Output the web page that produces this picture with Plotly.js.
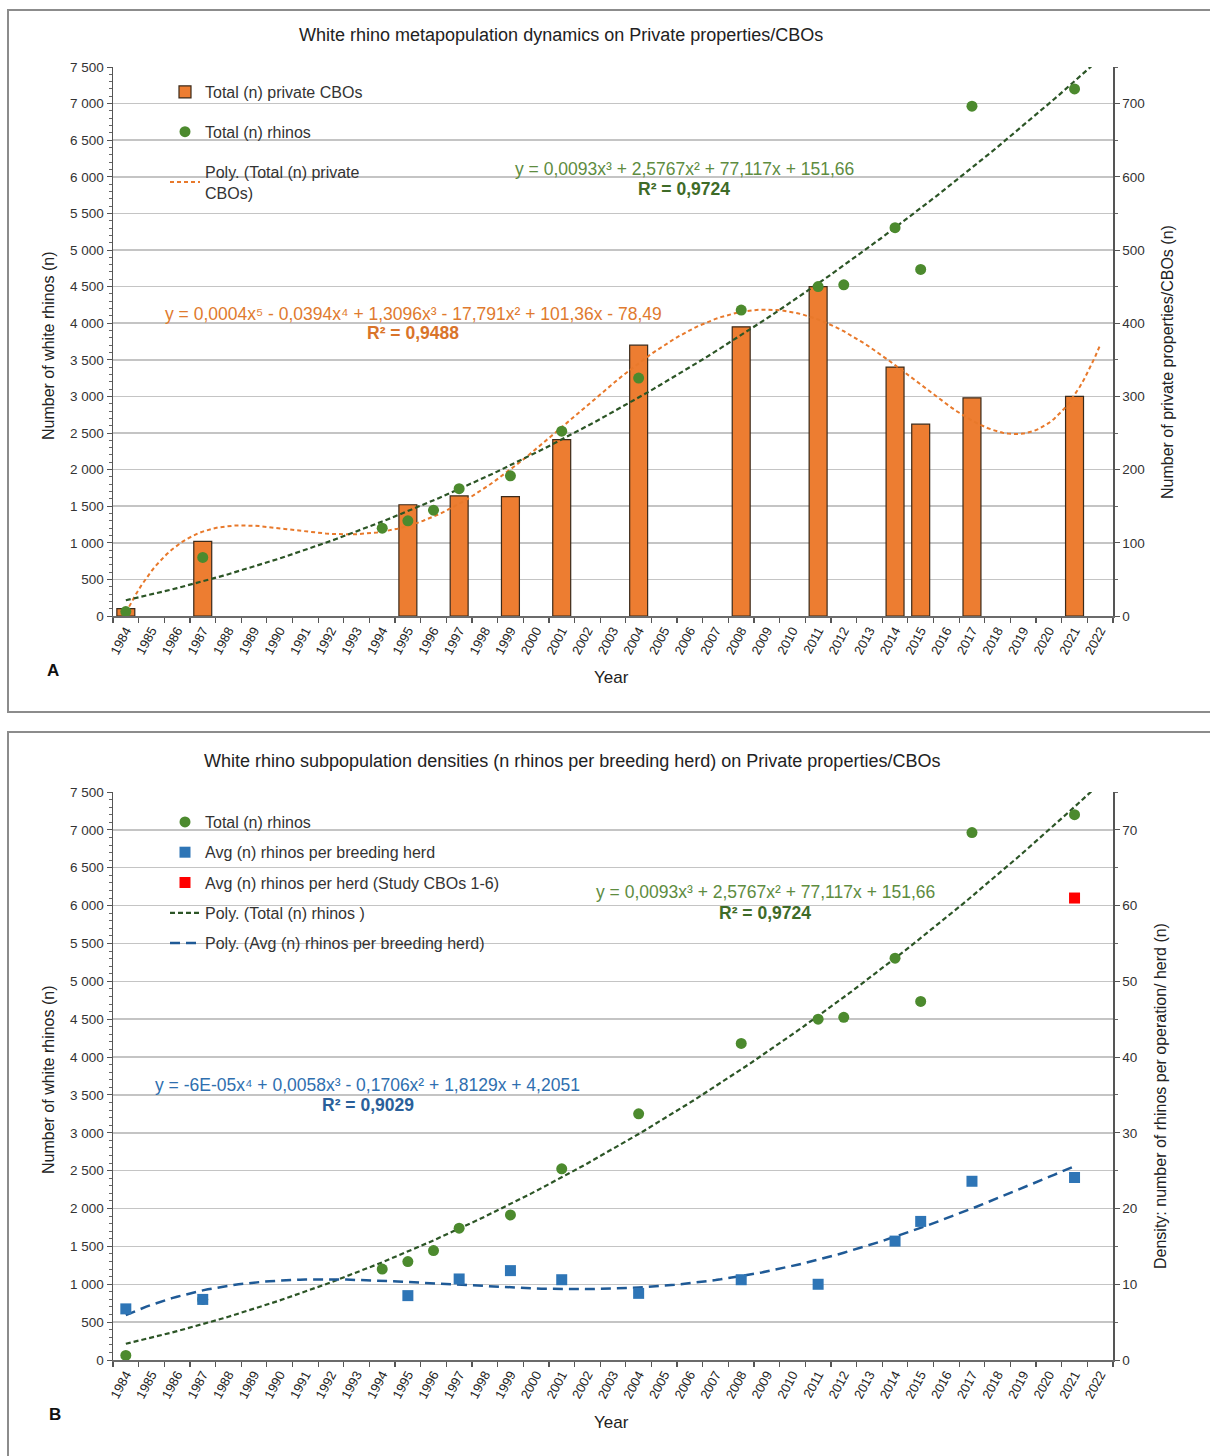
<!DOCTYPE html>
<html>
<head>
<meta charset="utf-8">
<script src="https://cdn.plot.ly/plotly-3.0.1.min.js"></script>
<style>html,body{margin:0;padding:0;background:#fff;}#chart{width:1210px;height:1456px;}</style>
</head>
<body>
<div id="chart"></div>
<script>
// ---- data ----
const yearLabels = ['1984','1985','1986','1987','1988','1989','1990','1991','1992','1993','1994','1995','1996','1997','1998','1999','2000','2001','2002','2003','2004','2005','2006','2007','2008','2009','2010','2011','2012','2013','2014','2015','2016','2017','2018','2019','2020','2021','2022'];
const cboYears  = [1984, 1987, 1995, 1997, 1999, 2001, 2004, 2008, 2011, 2014, 2015, 2017, 2021];
const cboCounts = [10, 102, 152, 164, 163, 241, 370, 395, 450, 340, 262, 298, 300];
const rhinoYears  = [1984, 1987, 1994, 1995, 1996, 1997, 1999, 2001, 2004, 2008, 2011, 2012, 2014, 2015, 2017, 2021];
const rhinoCounts = [60, 800, 1200, 1300, 1445, 1740, 1915, 2525, 3250, 4180, 4500, 4525, 5305, 4735, 6965, 7200];
const herdYears   = [1984, 1987, 1995, 1997, 1999, 2001, 2004, 2008, 2011, 2014, 2015, 2017, 2021];
const herdDensity = [6.75, 8, 8.5, 10.7, 11.8, 10.6, 8.8, 10.6, 10, 15.7, 18.3, 23.6, 24.1];
const studyYears   = [2021];
const studyDensity = [61];

const eqGreen  = 'y = 0,0093x³ + 2,5767x² + 77,117x + 151,66';
const r2Green  = 'R² = 0,9724';
const eqOrange = 'y = 0,0004x⁵ - 0,0394x⁴ + 1,3096x³ - 17,791x² + 101,36x - 78,49';
const r2Orange = 'R² = 0,9488';
const eqBlue   = 'y = -6E-05x⁴ + 0,0058x³ - 0,1706x² + 1,8129x + 4,2051';
const r2Blue   = 'R² = 0,9029';

// ---- least-squares polynomial trendline (x = category index, as in Excel) ----
const FIRST = 1983;
function polyfit(yrs, vals, deg) {
  const c = 20, s = 19, n = deg + 1;
  const A = Array.from({length: n}, () => new Array(n).fill(0));
  const b = new Array(n).fill(0);
  yrs.forEach((yr, i) => {
    const t = ((yr - FIRST) - c) / s;
    const p = []; let v = 1;
    for (let k = 0; k < n; k++) { p.push(v); v *= t; }
    for (let r = 0; r < n; r++) { b[r] += p[r] * vals[i]; for (let q = 0; q < n; q++) A[r][q] += p[r] * p[q]; }
  });
  for (let col = 0; col < n; col++) {
    let piv = col;
    for (let r = col + 1; r < n; r++) if (Math.abs(A[r][col]) > Math.abs(A[piv][col])) piv = r;
    [A[col], A[piv]] = [A[piv], A[col]]; [b[col], b[piv]] = [b[piv], b[col]];
    for (let r = col + 1; r < n; r++) {
      const f = A[r][col] / A[col][col];
      for (let q = col; q < n; q++) A[r][q] -= f * A[col][q];
      b[r] -= f * b[col];
    }
  }
  const coef = new Array(n).fill(0);
  for (let r = n - 1; r >= 0; r--) {
    let sum = b[r];
    for (let q = r + 1; q < n; q++) sum -= A[r][q] * coef[q];
    coef[r] = sum / A[r][r];
  }
  return yr => { const t = ((yr - FIRST) - c) / s; let v = 0, p = 1; for (let k = 0; k < n; k++) { v += coef[k] * p; p *= t; } return v; };
}
function curve(fn, y0, y1) {
  const xs = [], ys = [];
  for (let x = y0; x <= y1 + 1e-9; x += 0.2) { xs.push(x); ys.push(fn(x)); }
  return {x: xs, y: ys};
}
const fitOrange = polyfit(cboYears, cboCounts, 5);
const fitGreen  = polyfit(rhinoYears, rhinoCounts, 3);
const fitBlue   = polyfit(herdYears, herdDensity, 4);
const cO  = curve(fitOrange, 1984, 2022);
const cG  = curve(fitGreen, 1984, 2022.5);
const cB  = curve(fitBlue, 1984, 2021);

// ---- styling ----
const W = 1210, H = 1456;
const px = x => x / W, py = y => 1 - y / H;
const FONT = 'Liberation Sans, Arial, sans-serif';
const ORANGE = '#ED7D31', GREEN = '#4C8A2E', BLUE = '#2E75B6', RED = '#FF0000';
const GREENLINE = '#2C5526', BLUELINE = '#1F5A96', ORANGELINE = '#E8792B';

const traces = [
  // Panel A
  {type: 'bar', x: cboYears, y: cboCounts, xaxis: 'x', yaxis: 'y', width: 0.7,
   marker: {color: ORANGE, line: {color: '#3b2a1a', width: 1.2}}, name: 'Total (n) private CBOs',
   legend: 'legend', legendgroup: 'a1', legendrank: 1},
  {type: 'scatter', mode: 'lines', x: cO.x, y: cO.y, xaxis: 'x', yaxis: 'y',
   line: {color: ORANGELINE, width: 2, dash: '4px,3px'}, name: 'Poly. (Total (n) private<br>CBOs)',
   legend: 'legend', legendgroup: 'a3', legendrank: 3},
  {type: 'scatter', mode: 'lines', x: cG.x, y: cG.y, xaxis: 'x', yaxis: 'y2',
   line: {color: GREENLINE, width: 2.2, dash: '5px,3px'}, showlegend: false, name: 'Poly. (Total (n) rhinos)'},
  {type: 'scatter', mode: 'markers', x: rhinoYears, y: rhinoCounts, xaxis: 'x', yaxis: 'y2',
   marker: {color: GREEN, size: 11, symbol: 'circle'}, name: 'Total (n) rhinos',
   legend: 'legend', legendgroup: 'a2', legendrank: 2},
  // Panel B
  {type: 'scatter', mode: 'lines', x: cG.x, y: cG.y, xaxis: 'x2', yaxis: 'y3',
   line: {color: GREENLINE, width: 2.2, dash: '5px,3px'}, name: 'Poly. (Total (n) rhinos )',
   legend: 'legend2', legendgroup: 'b4', legendrank: 4},
  {type: 'scatter', mode: 'markers', x: rhinoYears, y: rhinoCounts, xaxis: 'x2', yaxis: 'y3',
   marker: {color: GREEN, size: 11, symbol: 'circle'}, name: 'Total (n) rhinos',
   legend: 'legend2', legendgroup: 'b1', legendrank: 1},
  {type: 'scatter', mode: 'lines', x: cB.x, y: cB.y, xaxis: 'x2', yaxis: 'y4',
   line: {color: BLUELINE, width: 2.5, dash: '10px,6px'}, name: 'Poly. (Avg (n) rhinos per breeding herd)',
   legend: 'legend2', legendgroup: 'b5', legendrank: 5},
  {type: 'scatter', mode: 'markers', x: herdYears, y: herdDensity, xaxis: 'x2', yaxis: 'y4',
   marker: {color: BLUE, size: 11, symbol: 'square'}, name: 'Avg (n) rhinos per breeding herd',
   legend: 'legend2', legendgroup: 'b2', legendrank: 2},
  {type: 'scatter', mode: 'markers', x: studyYears, y: studyDensity, xaxis: 'x2', yaxis: 'y4',
   marker: {color: RED, size: 11, symbol: 'square'}, name: 'Avg (n) rhinos per herd (Study CBOs 1-6)',
   legend: 'legend2', legendgroup: 'b3', legendrank: 3}
];

const xDom = [px(113), px(1113)];
const domA = [py(616), py(67)];
const domB = [py(1360), py(792)];
const yearNums = yearLabels.map(Number);

function xAxis(anchor) {
  return {domain: xDom, anchor: anchor, range: [1983.5, 2022.5], tickmode: 'array', tickvals: yearNums, ticktext: yearLabels,
    tickangle: -62, ticks: '', showgrid: false, zeroline: false, showline: true, linecolor: '#6b6b6b', linewidth: 2,
    tickfont: {family: FONT, size: 13, color: '#222'},
    minor: {tickmode: 'linear', tick0: 1983.5, dtick: 1, ticks: 'outside', ticklen: 5, tickcolor: '#555', tickwidth: 1.2, showgrid: false},
    fixedrange: true};
}
function leftAxis(dom, extra) {
  return Object.assign({domain: dom, range: [0, 7500], tickmode: 'linear', tick0: 0, dtick: 500, tickformat: ',',
    side: 'left', showgrid: true, gridcolor: '#c4c4c4', gridwidth: 1.5, zeroline: false, showline: true, linecolor: '#555', linewidth: 1.5,
    ticks: 'outside', ticklen: 5, tickcolor: '#555', tickfont: {family: FONT, size: 13.5, color: '#333'},
    minor: {dtick: 100, ticks: 'outside', ticklen: 3, tickcolor: '#666', showgrid: false}}, extra);
}
function rightAxis(dom, maxv, step, extra) {
  return Object.assign({domain: dom, range: [0, maxv], tickmode: 'linear', tick0: 0, dtick: step, side: 'right',
    showgrid: false, zeroline: false, showline: true, linecolor: '#555', linewidth: 1.5,
    ticks: 'outside', ticklen: 5, tickcolor: '#555', tickfont: {family: FONT, size: 13.5, color: '#333'},
    minor: {dtick: step / 2, ticks: 'outside', ticklen: 3, tickcolor: '#666', showgrid: false}}, extra);
}

const ann = (x, y, text, opts) => Object.assign({xref: 'paper', yref: 'paper', x: px(x), y: py(y), text: text, showarrow: false,
  xanchor: 'center', yanchor: 'middle', font: {family: FONT, size: 16, color: '#222'}}, opts || {});
const EQ = 17.5;

const annotations = [
  ann(561, 35, 'White rhino metapopulation dynamics on Private properties/CBOs', {font: {family: FONT, size: 18, color: '#222'}}),
  ann(572, 761, 'White rhino subpopulation densities (n rhinos per breeding herd) on Private properties/CBOs', {font: {family: FONT, size: 18, color: '#222'}}),
  ann(48, 346, 'Number of white rhinos (n)', {textangle: -90}),
  ann(48, 1080, 'Number of white rhinos (n)', {textangle: -90}),
  ann(1167, 362, 'Number of private properties/CBOs (n)', {textangle: -90}),
  ann(1160, 1096, 'Density: number of rhinos per operation/ herd (n)', {textangle: -90}),
  ann(611, 677, 'Year', {font: {family: FONT, size: 17, color: '#222'}}),
  ann(611, 1422, 'Year', {font: {family: FONT, size: 17, color: '#222'}}),
  ann(53, 671, '<b>A</b>', {font: {family: FONT, size: 17, color: '#111'}}),
  ann(55, 1414, '<b>B</b>', {font: {family: FONT, size: 17, color: '#111'}}),
  ann(684, 169, eqGreen, {font: {family: FONT, size: EQ, color: '#5E8C3F'}}),
  ann(684, 189, '<b>' + r2Green + '</b>', {font: {family: FONT, size: EQ, color: '#3E6B28'}}),
  ann(413, 314, eqOrange, {font: {family: FONT, size: EQ, color: '#E07A2E'}}),
  ann(413, 333, '<b>' + r2Orange + '</b>', {font: {family: FONT, size: EQ, color: '#D9742A'}}),
  ann(765, 892, eqGreen, {font: {family: FONT, size: EQ, color: '#5E8C3F'}}),
  ann(765, 913, '<b>' + r2Green + '</b>', {font: {family: FONT, size: EQ, color: '#3E6B28'}}),
  ann(368, 1085, eqBlue, {font: {family: FONT, size: EQ, color: '#2F6FAF'}}),
  ann(368, 1105, '<b>' + r2Blue + '</b>', {font: {family: FONT, size: EQ, color: '#2A5F9A'}})
];

const shapes = [
  {type: 'rect', xref: 'paper', yref: 'paper', x0: px(8), x1: px(1230), y0: py(712), y1: py(10), line: {color: '#8c8c8c', width: 2}, layer: 'below'},
  {type: 'rect', xref: 'paper', yref: 'paper', x0: px(8), x1: px(1230), y0: py(1480), y1: py(732), line: {color: '#8c8c8c', width: 2}, layer: 'below'}
];

const layout = {
  width: W, height: H, margin: {l: 0, r: 0, t: 0, b: 0}, paper_bgcolor: '#fff', plot_bgcolor: 'rgba(0,0,0,0)',
  separators: ', ', font: {family: FONT, color: '#222'}, barmode: 'overlay',
  xaxis: xAxis('y'),
  yaxis: rightAxis(domA, 750, 100, {anchor: 'x'}),
  yaxis2: leftAxis(domA, {anchor: 'x', overlaying: 'y'}),
  xaxis2: xAxis('y3'),
  yaxis3: leftAxis(domB, {anchor: 'x2'}),
  yaxis4: rightAxis(domB, 75, 10, {anchor: 'x2', overlaying: 'y3'}),
  legend: {x: px(165), y: py(75), xanchor: 'left', yanchor: 'top', bgcolor: 'rgba(0,0,0,0)', tracegroupgap: 16,
    font: {family: FONT, size: 16, color: '#333'}, traceorder: 'grouped'},
  legend2: {x: px(165), y: py(805), xanchor: 'left', yanchor: 'top', bgcolor: 'rgba(0,0,0,0)', tracegroupgap: 6.5,
    font: {family: FONT, size: 16, color: '#333'}, traceorder: 'grouped'},
  annotations: annotations, shapes: shapes, showlegend: true
};

Plotly.newPlot('chart', traces, layout, {staticPlot: true, displayModeBar: false});
</script>
</body>
</html>
